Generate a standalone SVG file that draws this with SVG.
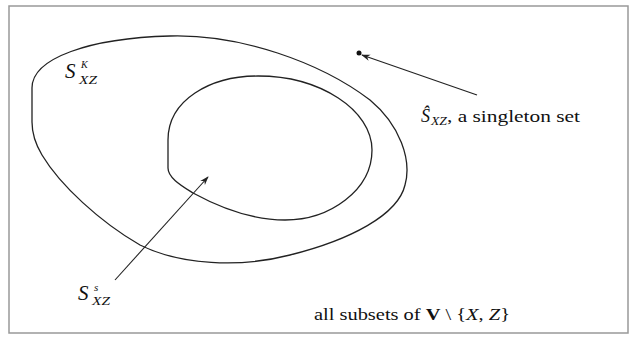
<svg xmlns="http://www.w3.org/2000/svg" width="634" height="339" viewBox="0 0 634 339">
<style>
.set{fill:none;stroke:#222;stroke-width:1.3}
.conn{fill:none;stroke:#222;stroke-width:1.1}
.t{font-family:"Liberation Serif","DejaVu Serif",serif;fill:#111}
.i{font-style:italic}
</style>
<defs>
<marker id="ah" viewBox="0 0 10 10" refX="9" refY="5" markerWidth="9" markerHeight="9" markerUnits="userSpaceOnUse" orient="auto">
<path d="M0,1.5 L10,5 L0,8.5 L3,5 Z" fill="#222"/>
</marker>
</defs>
<rect x="9" y="6" width="619" height="327" fill="#fff" stroke="#999" stroke-width="1.5"/>
<g id="outer-set">
<path class="set" d="M32,122 L32,88 C32,58 90,38 170,36 C240,34 320,62 370,100 C400,125 412,160 405,185 C398,215 350,240 290,255 C240,268 180,265 140,245 C100,222 60,185 42,155 C36,145 32,132 32,122 Z"/>
<text class="t i" x="65" y="78" font-size="21">S</text>
<text class="t i" x="81" y="68" font-size="10">K</text>
<text class="t i" x="79" y="84" font-size="12" textLength="18" lengthAdjust="spacingAndGlyphs">XZ</text>
</g>
<g id="inner-set">
<path class="set" d="M168,168 L168,140 C168,100 210,76 258,76 C320,76 372,110 372,150 C372,190 330,220 285,220 C250,220 215,205 193,193 C182,186 168,178 168,168 Z"/>
<text class="t i" x="78" y="300" font-size="21">S</text>
<text class="t i" x="94" y="291" font-size="11">s</text>
<text class="t i" x="92" y="305" font-size="12" textLength="18" lengthAdjust="spacingAndGlyphs">XZ</text>
</g>
<g id="singleton">
<circle cx="359" cy="53" r="2.5" fill="#111"/>
<text class="t i" x="421" y="122" font-size="18">Ŝ</text>
<text class="t i" x="431" y="125" font-size="12" textLength="16" lengthAdjust="spacingAndGlyphs">XZ</text>
<text class="t" x="447" y="122" font-size="16" textLength="133" lengthAdjust="spacingAndGlyphs">, a singleton set</text>
</g>
<g id="universe">
<text class="t" x="314" y="320" font-size="16" textLength="196" lengthAdjust="spacingAndGlyphs">all subsets of <tspan font-weight="bold">V</tspan> \ {<tspan class="i">X</tspan>, <tspan class="i">Z</tspan>}</text>
</g>
<g id="connectors">
<line class="conn" x1="477" y1="95" x2="362" y2="55" marker-end="url(#ah)"/>
<line class="conn" x1="115" y1="280" x2="208" y2="177" marker-end="url(#ah)"/>
</g>
</svg>
